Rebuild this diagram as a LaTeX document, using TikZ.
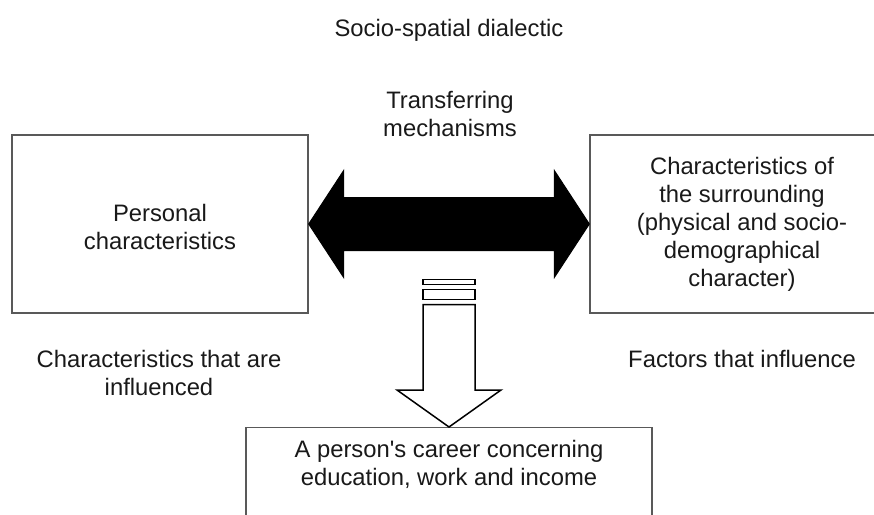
\documentclass[tikz,border=0pt]{standalone}
\usepackage{fontspec}
\setmainfont{Liberation Sans}
\usetikzlibrary{calc}
\begin{document}
\begin{tikzpicture}[x=1pt,y=-1pt,
  lbl/.style={font=\fontsize{23.8}{28}\selectfont, text=black!90, inner sep=0pt, align=center},
  box/.style={draw=black!65, line width=1.4pt, fill=white, inner sep=0pt, align=center,
    font=\fontsize{23.8}{28}\selectfont, text=black!90},
  bigarrow/.style={fill=black, draw=black, line width=1pt, line join=miter},
  hollow/.style={fill=white, draw=black, line width=1.5pt, line join=miter}]
\useasboundingbox (0,0) rectangle (874,514);
\clip (0,0) rectangle (874,514);

% boxes
\node[box, minimum width=296pt, minimum height=178pt] (pers) at (160,224)
  {\rule{0pt}{24pt}Personal\\characteristics};
\node[box, minimum width=304pt, minimum height=178pt] (surr) at (742,224)
  {Characteristics of\\the surrounding\\(physical and socio-\\demographical\\character)};
\node[box, minimum width=406pt, minimum height=120pt, anchor=north] (career) at (449,427) {};
\node[lbl, anchor=base] (careertxt) at ($(career.north)+(0,58)$)
  {A person\textquotesingle s career concerning\\education, work and income};

% labels
\node[lbl, anchor=base] (title) at (449,36) {Socio-spatial dialectic};
\node[lbl, anchor=base] (trans) at (450,136) {Transferring\\mechanisms};
\node[lbl, anchor=base] (infl) at (159,395) {Characteristics that are\\influenced};
\node[lbl, anchor=base] (fact) at (742,367) {Factors that influence};

% double arrow between boxes
\coordinate (L) at (pers.east);
\coordinate (R) at (surr.west);
\draw[bigarrow] (L) -- ($(L)+(35,-53.5)$) -- ($(L)+(35,-26.5)$) -- ($(R)+(-35,-26.5)$)
  -- ($(R)+(-35,-53.5)$) -- (R) -- ($(R)+(-35,53.5)$) -- ($(R)+(-35,26.5)$)
  -- ($(L)+(35,26.5)$) -- ($(L)+(35,53.5)$) -- cycle;

% down arrow to career box
\coordinate (T) at (career.north);
\draw[hollow] ($(T)+(-26,-147.5)$) rectangle ($(T)+(26,-142.5)$);
\draw[hollow] ($(T)+(-26,-137.5)$) rectangle ($(T)+(26,-127.5)$);
\draw[hollow] ($(T)+(-26,-122.5)$) -- ($(T)+(-26,-37)$) -- ($(T)+(-52,-37)$) -- (T)
  -- ($(T)+(52,-37)$) -- ($(T)+(26,-37)$) -- ($(T)+(26,-122.5)$) -- cycle;
\end{tikzpicture}
\end{document}
